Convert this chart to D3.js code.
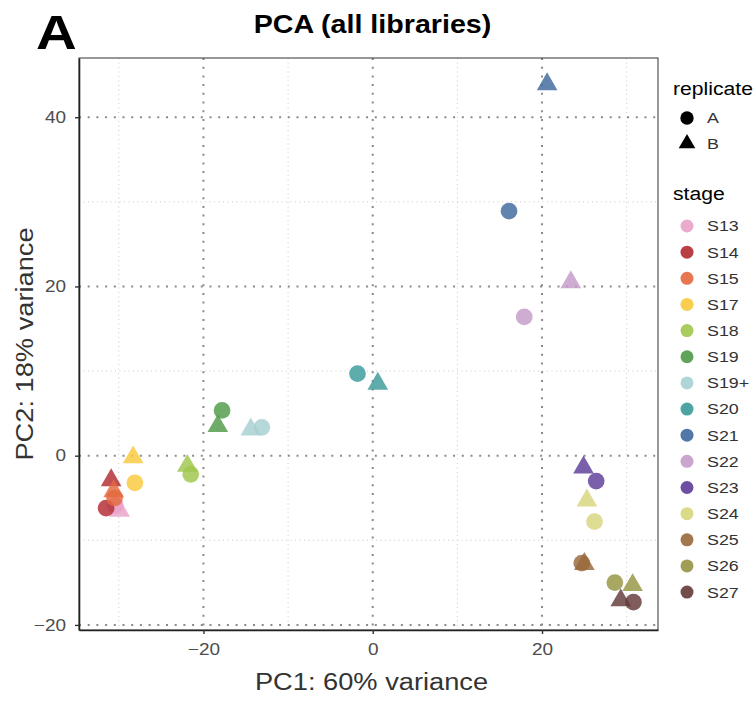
<html lang="en">
  <head>
    <meta charset="utf-8">
    <title>PCA (all libraries)</title>
    <script src="https://d3js.org/d3.v7.min.js"></script>
    <style>
      body { margin: 0; background: #fff; }
      text { font-family: "Liberation Sans", Arial, sans-serif; }
    </style>
  </head>
  <body>
    <script type="text/javascript">
      var w = 756;
      var h = 701;
      var panel = {left: 79, right: 658, top: 58, bottom: 630};
      var sx = 1.15; // text in the picture runs a bit wider than Liberation Sans

      // stages, colours and PCA coordinates (A = circle, B = triangle)
      var stages = ["S13", "S14", "S15", "S17", "S18", "S19", "S19+", "S20",
                    "S21", "S22", "S23", "S24", "S25", "S26", "S27"];
      var colors = ["#e8a2c8", "#b12a30", "#e4683d", "#f8c93b", "#9fc64c", "#4f9a47",
                    "#a7d0d1", "#3b9a98", "#3e699d", "#c49bc9", "#5d3c98", "#d7d67b",
                    "#99683b", "#959441", "#643939"];
      var pc1A = [-30.4, -31.5, -30.5, -28.1, -21.5, -17.8, -13.1, -1.8,
                  16.1, 17.9, 26.4, 26.2, 24.7, 28.6, 30.8];
      var pc2A = [-5.9, -6.2, -5.0, -3.2, -2.2, 5.35, 3.35, 9.7,
                  28.9, 16.4, -3.0, -7.8, -12.7, -15.0, -17.3];
      var pc1B = [-29.9, -30.9, -30.6, -28.3, -21.9, -18.3, -14.4, 0.6,
                  20.6, 23.4, 24.9, 25.3, 25.0, 30.7, 29.3];
      var pc2B = [-6.5, -2.9, -4.2, -0.2, -1.2, 3.5, 3.1, 8.5,
                  43.9, 20.5, -1.4, -5.3, -12.8, -15.3, -17.1];
      var xTicks = [-20, 0, 20];
      var yTicks = [-20, 0, 20, 40];
      var xMinor = [-30, -10, 10, 30];
      var yMinor = [-10, 10, 30];
      var replicates = ["A", "B"];

      var points = [];
      stages.forEach(function(s, i) {
        points.push({stage: s, rep: "A", x: pc1A[i], y: pc2A[i]});
        points.push({stage: s, rep: "B", x: pc1B[i], y: pc2B[i]});
      });

      var xScale = d3.scaleLinear().domain([-34.7, 33.7]).range([panel.left, panel.right]);
      var yScale = d3.scaleLinear().domain([-20.6, 47.0]).range([panel.bottom, panel.top]);
      var color = d3.scaleOrdinal().domain(stages).range(colors);
      var shape = d3.scaleOrdinal().domain(replicates).range([d3.symbolCircle, d3.symbolTriangle]);
      var shapeSize = d3.scaleOrdinal().domain(replicates).range([220, 185]);

      var svg = d3.select("body")
          .append("svg")
          .attr("width", w)
          .attr("height", h);

      function label(x, y, str, size, opts) {
        opts = opts || {};
        return svg.append("text")
            .attr("transform", `translate(${x},${y})` + (opts.rotate ? ` rotate(${opts.rotate})` : "") + ` scale(${sx},1)`)
            .attr("text-anchor", opts.anchor || "start")
            .style("font-size", size + "px")
            .style("font-weight", opts.bold ? "bold" : "normal")
            .attr("fill", opts.fill || "#000")
            .text(str);
      }

      // grid
      var grid = svg.append("g");
      grid.selectAll(".vminor").data(xMinor).enter().append("line")
          .attr("x1", d => xScale(d)).attr("x2", d => xScale(d))
          .attr("y1", panel.top).attr("y2", panel.bottom)
          .attr("stroke", "#c4c4c4").attr("stroke-width", 0.9).attr("stroke-dasharray", "1,3.5");
      grid.selectAll(".hminor").data(yMinor).enter().append("line")
          .attr("y1", d => yScale(d)).attr("y2", d => yScale(d))
          .attr("x1", panel.left).attr("x2", panel.right)
          .attr("stroke", "#c4c4c4").attr("stroke-width", 0.9).attr("stroke-dasharray", "1,3.5");
      grid.selectAll(".vmajor").data(xTicks).enter().append("line")
          .attr("x1", d => xScale(d)).attr("x2", d => xScale(d))
          .attr("y1", panel.top).attr("y2", panel.bottom)
          .attr("stroke", "#8a8a8a").attr("stroke-width", 2).attr("stroke-dasharray", "2,6.7");
      grid.selectAll(".hmajor").data(yTicks).enter().append("line")
          .attr("y1", d => yScale(d)).attr("y2", d => yScale(d))
          .attr("x1", panel.left).attr("x2", panel.right)
          .attr("stroke", "#8a8a8a").attr("stroke-width", 2).attr("stroke-dasharray", "2,6.7");

      // points
      svg.append("g").selectAll("path")
          .data(points)
          .enter()
          .append("path")
          .attr("d", d => d3.symbol().type(shape(d.rep)).size(shapeSize(d.rep))())
          .attr("transform", d => `translate(${xScale(d.x)},${yScale(d.y)})`)
          .attr("fill", d => color(d.stage))
          .attr("fill-opacity", 0.82);

      // border
      svg.append("rect")
          .attr("x", panel.left).attr("y", panel.top)
          .attr("width", panel.right - panel.left).attr("height", panel.bottom - panel.top)
          .attr("fill", "none").attr("stroke", "#333").attr("stroke-width", 1);

      // axes
      var fmt = d => d < 0 ? "\u2212" + Math.abs(d) : d;
      var xAxis = d3.axisBottom(xScale).tickValues(xTicks).tickSize(4).tickSizeOuter(0).tickFormat(fmt);
      var yAxis = d3.axisLeft(yScale).tickValues(yTicks).tickSize(4).tickSizeOuter(0).tickFormat(fmt);
      var gx = svg.append("g")
          .attr("transform", `translate(0, ${panel.bottom})`)
          .call(xAxis);
      var gy = svg.append("g")
          .attr("transform", `translate(${panel.left}, 0)`)
          .call(yAxis);
      [gx, gy].forEach(function(g) {
        g.select(".domain").attr("stroke", "#222").attr("stroke-width", 1.6);
        g.selectAll(".tick line").attr("stroke", "#333").attr("stroke-width", 1.4);
        g.selectAll(".tick text").attr("fill", "#4d4d4d")
          .style("font-size", "16.5px").style("font-family", "Liberation Sans, Arial, sans-serif");
      });
      gx.selectAll(".tick text").attr("dy", "0.71em").attr("y", 0)
          .attr("transform", `translate(0,13) scale(${sx},1)`);
      gy.selectAll(".tick text").attr("x", 0)
          .attr("transform", `translate(-13,0) scale(${sx},1)`);

      // titles
      label(36, 49, "A", 49, {bold: true});
      label(372.5, 33, "PCA (all libraries)", 24.9, {bold: true, anchor: "middle"});
      label(371.5, 690, "PC1: 60% variance", 23.7, {anchor: "middle", fill: "#333"});
      label(33, 344, "PC2: 18% variance", 23.7, {anchor: "middle", fill: "#333", rotate: -90});

      // legends
      label(673, 95, "replicate", 18.4);
      var repItems = svg.append("g").selectAll(".rep").data(replicates).enter().append("g")
          .attr("transform", (d, i) => `translate(687, ${118 + i * 25.5})`);
      repItems.append("path")
          .attr("d", d => d3.symbol().type(shape(d)).size(d === "A" ? 140 : 120)())
          .attr("fill", "#000");
      repItems.append("text")
          .attr("transform", `translate(20,0) scale(${sx},1)`).attr("dy", "0.35em")
          .style("font-size", "15.5px").attr("fill", "#333").text(d => d);

      label(673, 200, "stage", 18.4);
      var stItems = svg.append("g").selectAll(".st").data(stages).enter().append("g")
          .attr("transform", (d, i) => `translate(687, ${226 + i * 26.15})`);
      stItems.append("circle").attr("r", 6.5)
          .attr("fill", d => color(d)).attr("fill-opacity", 0.9);
      stItems.append("text")
          .attr("transform", `translate(20,0) scale(${sx},1)`).attr("dy", "0.35em")
          .style("font-size", "15.5px").attr("fill", "#333").text(d => d);
    </script>
  </body>
</html>
